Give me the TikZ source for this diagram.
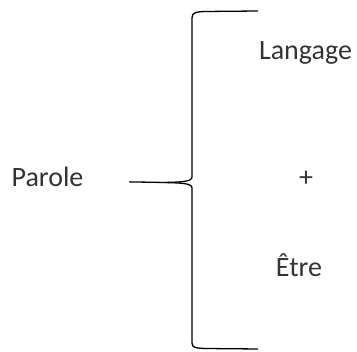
\documentclass[tikz,border=0pt]{standalone}
\usepackage{fontspec}
\setmainfont{Carlito}
\begin{document}
\begin{tikzpicture}[x=1pt,y=-1pt,line width=1.3pt,
  every node/.style={anchor=base,text=black!80,font=\fontsize{28}{32}\selectfont}]
\useasboundingbox (0,0) rectangle (357,352);
\node (parole) at (47.5,187) {Parole};
\node (langage) at (305.5,60) {Langage};
\node (plus) at (306,187) {+};
\node (etre) at (299,277) {Être};
\coordinate (tip) at (165,182.5);
\draw (parole.east)+(42,4.5) -- (tip);
\draw (tip) .. controls (180,182) and (192,182) .. (192,177) -- (192,18)
  .. controls (192,12) and (196,12) .. (205,11.5) -- (258,11);
\draw (tip) .. controls (180,183) and (192,183) .. (192,188) -- (192,343)
  .. controls (192,348) and (196,348) .. (205,348.5) -- (258,349);
\end{tikzpicture}
\end{document}
